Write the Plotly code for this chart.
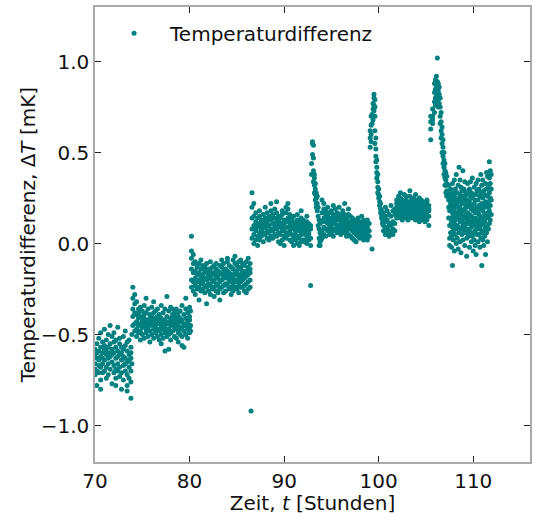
import plotly.graph_objects as go

# Each row: (time in 0.1 h, readings in 0.01 mK ...)
seg_a = [
    (700, -58, -66, -72, -61, -69), (702, -55, -63, -70, -78, -60),
    (704, -52, -64, -59, -71, -67), (706, -49, -62, -57, -68, -75, -80),
    (708, -60, -54, -66, -71, -63), (710, -47, -58, -64, -70, -56),
    (712, -61, -53, -68, -74, -59), (714, -50, -57, -63, -66, -72),
    (716, -45, -55, -62, -69, -60), (718, -58, -51, -65, -77, -61),
    (720, -54, -60, -67, -49, -71), (722, -57, -63, -53, -69, -78, -74),
    (724, -46, -59, -66, -62, -70), (726, -55, -61, -68, -52, -73),
    (728, -60, -64, -57, -71, -80), (730, -51, -62, -67, -75, -58),
    (732, -56, -63, -70, -48, -66), (734, -59, -65, -72, -54, -78, -81),
    (736, -53, -61, -68, -74, -64), (738, -57, -63, -70, -76, -85, -60),
    (739, -50, -66),
]
seg_b = [
    (740, -24, -30, -36, -40, -45), (742, -28, -33, -38, -44, -48),
    (744, -32, -39, -43, -47, -51), (746, -36, -41, -45, -49, -38),
    (748, -40, -44, -48, -53, -35), (750, -37, -42, -46, -50, -44),
    (752, -34, -41, -45, -52, -39), (754, -43, -38, -47, -49, -30),
    (756, -36, -42, -46, -51, -44), (758, -39, -44, -48, -41, -54),
    (760, -35, -40, -45, -50, -43), (762, -38, -42, -47, -52, -32),
    (764, -41, -45, -49, -37, -44), (766, -36, -43, -47, -51, -40),
    (768, -39, -44, -48, -53, -42), (770, -34, -41, -46, -50, -55),
    (772, -38, -43, -47, -52, -45), (774, -36, -42, -46, -59, -49),
    (776, -40, -44, -48, -51, -29), (778, -37, -43, -47, -58, -50),
    (780, -35, -41, -45, -49, -53), (782, -39, -44, -48, -42, -36),
    (784, -38, -43, -46, -51, -40), (786, -36, -42, -47, -52, -44),
    (788, -40, -45, -49, -38, -54), (790, -37, -43, -47, -50, -41),
    (792, -34, -42, -46, -51, -56), (794, -39, -44, -48, -57, -45),
    (796, -36, -41, -45, -50, -30), (798, -38, -43, -47, -52, -44),
    (800, -35, -40, -46, -49, -42), (801, -37, -45, -48),
]
seg_c = [
    (802, 4, -4, -8, -14, -20, -24), (804, -6, -11, -16, -21, -26),
    (806, -10, -15, -19, -23, -28), (808, -13, -17, -21, -25, -12),
    (810, -11, -16, -20, -31, -24), (812, -14, -18, -22, -26, -9),
    (814, -12, -17, -21, -25, -19), (816, -15, -19, -23, -27, -13),
    (818, -11, -16, -20, -24, -33), (820, -14, -18, -22, -26, -17),
    (822, -10, -15, -19, -23, -28), (824, -13, -17, -21, -25, -20),
    (826, -12, -16, -20, -24, -29), (828, -14, -18, -22, -11, -26),
    (830, -15, -19, -23, -27, -17), (832, -12, -16, -21, -25, -31),
    (834, -13, -17, -20, -24, -9), (836, -11, -15, -19, -23, -27),
    (838, -14, -18, -22, -26, -16), (840, -10, -15, -19, -23, -8),
    (842, -12, -16, -21, -25, -18), (844, -13, -17, -20, -24, -28),
    (846, -9, -14, -18, -22, -26), (848, -11, -16, -20, -24, -7),
    (850, -12, -17, -21, -25, -15), (852, -10, -14, -19, -23, -27),
    (854, -13, -17, -21, -9, -24), (856, -11, -15, -20, -24, -18),
    (858, -12, -16, -19, -23, -26), (860, -10, -15, -18, -22, -27),
    (862, -13, -17, -21, -25, -8), (864, -11, -16, -20, -24, -14),
    (865, -92),
]
seg_d = [
    (866, 28, 20, 14, 8, 3), (868, 22, 15, 10, 5, 0),
    (870, 17, 12, 7, 2, 9), (872, 14, 9, 4, 11, -1),
    (874, 15, 10, 6, 2, 18), (876, 13, 8, 4, 12, 7),
    (878, 16, 11, 6, 1, 9), (880, 14, 9, 5, 12, 20),
    (882, 17, 12, 7, 3, 10), (884, 15, 10, 6, 2, 13),
    (886, 18, 13, 8, 4, 22), (888, 16, 11, 7, 3, 14),
    (890, 19, 14, 9, 5, 11), (892, 17, 12, 8, 4, 23),
    (894, 15, 10, 6, 1, 13), (896, 14, 9, 5, 0, 11),
    (898, 16, 11, 7, 2, 18), (900, 13, 8, 4, -1, 10),
    (902, 17, 12, 20, 6, 3), (904, 19, 14, 9, 5, 22),
    (906, 16, 11, 7, 2, 13), (908, 14, 9, 5, 1, 10),
    (910, 12, 8, 3, -1, 15), (912, 11, 7, 2, 9, 5),
    (914, 13, 8, 4, 0, 16), (916, 12, 7, 3, 10, -1),
    (918, 14, 9, 5, 1, 18), (920, 11, 6, 2, 8, 13),
    (922, 10, 5, 1, 7, 12), (924, 12, 8, 3, 0, 15),
    (926, 9, 5, 2, 11, 6), (928, 8, 3, -1, 10, -23),
]
spike_1 = [
    (929, 44, 38), (930, 56, 55, 49), (931, 54, 47, 40, 34),
    (932, 36, 32, 28, 38), (933, 30, 27, 24, 33), (934, 25, 22, 20, 28),
    (935, 22, 18, 26), (936, 15, 10, 20), (937, 8, 3, 13, -1),
    (938, 6, 1, -1, 11), (939, 12, 5, 2),
]
seg_e = [
    (940, 24, 17, 12, 7, 3), (942, 19, 14, 9, 5, 22),
    (944, 16, 12, 8, 4, 18), (946, 15, 11, 7, 14, 20),
    (948, 17, 13, 9, 5, 11), (950, 14, 10, 6, 18, 8),
    (952, 16, 12, 8, 4, 21), (954, 15, 11, 7, 13, 19),
    (956, 17, 13, 9, 6, 10), (958, 14, 10, 16, 7, 20),
    (960, 16, 12, 8, 5, 14), (962, 15, 11, 7, 18, 9),
    (964, 13, 9, 6, 16, 22), (966, 14, 10, 7, 12, 4),
    (968, 16, 12, 8, 5, 19), (970, 12, 8, 4, 10, 15),
    (972, 11, 7, 3, 14, 9), (974, 10, 6, 2, 13, 8),
    (976, 9, 5, 1, 12, 7), (978, 8, 4, 11, 6, 14),
    (980, 10, 6, 3, 12, 7), (982, 11, 7, 4, 15, 9),
    (984, 8, 5, 2, 13), (986, 10, 6, 3, 12),
    (988, 9, 5, 2, 13, 7), (990, 11, 7, 4),
]
spike_2 = [
    (991, 53, 58, 62), (992, 60, 65, 70, 56), (993, 66, 71, -3),
    (994, 70, 74, 68, 77), (995, 76, 80, 73, 82), (996, 79, 75, 70, 62, 55),
    (997, 58, 52, 48, 45), (998, 46, 42, 39, 36), (999, 38, 34, 31, 28),
    (1000, 30, 27, 25), (1001, 26, 23, 21), (1002, 22, 19, 17),
    (1003, 18, 16, 14), (1004, 15, 13, 11),
]
seg_f = [
    (1005, 14, 10, 7, 17), (1007, 12, 8, 5, 15, 20), (1009, 13, 9, 6, 18),
    (1011, 11, 7, 4, 16), (1013, 15, 10, 6, 21), (1015, 12, 8, 5, 18),
    (1017, 16, 11, 7, 19),
    (1019, 24, 20, 17, 14, 22), (1021, 26, 21, 18, 15, 23),
    (1023, 25, 20, 17, 14, 28), (1025, 22, 19, 16, 13, 24),
    (1027, 27, 22, 18, 15, 20), (1029, 24, 20, 17, 14, 26),
    (1031, 23, 19, 16, 13, 21), (1033, 26, 22, 18, 15, 29),
    (1035, 24, 20, 17, 14, 22), (1037, 25, 21, 18, 15, 23),
    (1039, 23, 19, 16, 13, 27), (1041, 24, 20, 17, 14, 21),
    (1043, 22, 19, 16, 12, 25), (1045, 24, 20, 17, 14, 22),
    (1047, 23, 19, 16, 13, 20), (1049, 22, 18, 15, 12, 21),
    (1051, 23, 19, 16, 13, 24), (1053, 21, 18, 15, 10, 19),
]
spike_3 = [
    (1055, 63, 67, 70, 57), (1057, 66, 70, 74, 68), (1059, 72, 78, 83, 88),
    (1060, 80, 85, 90, 76), (1061, 82, 87, 92, 84), (1062, 102, 86, 80, 89),
    (1063, 79, 84, 88, 75), (1064, 77, 82, 86), (1065, 70, 75, 80, 66),
    (1066, 62, 67, 72, 58), (1067, 55, 60, 64, 50), (1068, 48, 53, 57, 44),
    (1069, 42, 46, 50, 38), (1070, 36, 40, 44, 32), (1071, 32, 35, 39, 28),
    (1072, 29, 33, 26, 37), (1074, 24, 28, 32, 20, 14),
]
seg_g = [
    (1075, 18, 10, 3, -1, 25), (1076, 14, 6, 22, 30), (1077, 20, 12, 4, -2, 27),
    (1078, -12, 9, 17, 24, 33), (1079, 15, 7, 2, 21, 28), (1080, 19, 11, -4, 26, 35),
    (1081, 13, 5, 22, 30, 17), (1082, 24, 16, 8, 0, 38), (1083, 21, 10, 3, 28, 15),
    (1084, 17, 9, 32, 23, -3), (1085, 25, 14, 6, 19, 42), (1086, 20, 12, 1, 27, 35),
    (1087, 16, 8, 24, 31, -5), (1088, 22, 13, 5, 29, 18), (1089, 18, 10, 2, 26, 40),
    (1090, 23, 15, 7, 30, 11), (1091, 19, 9, -1, 25, 34), (1092, 14, 6, 21, 28, 16),
    (1093, 20, 12, 3, 27, -7), (1094, 17, 8, 24, 33, 11), (1095, 22, 13, 4, 29, 15),
    (1096, 16, 7, -2, 23, 30), (1097, 21, 11, 26, 34, 5), (1098, 15, 9, 19, 28, 1),
    (1099, 20, 12, 4, 25, 36), (1100, 13, 6, -4, 18, 27), (1101, 18, 10, 22, 31, 2),
    (1102, 14, 7, -1, 24, 17), (1103, 19, 11, -6, 27, 33), (1104, 12, 5, 20, 29, 8),
    (1105, 17, 9, 1, 24, 35), (1106, 21, 13, 5, 30, 16), (1107, 15, 8, -2, 26, 11),
    (1108, 19, 10, 3, 28, 38), (1109, 14, 6, 22, 32, -12), (1110, 18, 11, 2, 25, 35),
    (1111, 13, 7, -1, 21, 29), (1112, 20, 12, 4, 27, 16), (1113, 16, 9, -6, 23, 33),
    (1114, 22, 14, 6, 30, 39), (1115, 17, 10, 1, 26, 37), (1116, 23, 15, 8, 31, 20),
    (1117, 18, 11, 28, 36, 45), (1118, 21, 13, 25, 33, 40), (1119, 24, 16, 30, 38),
]

segments = [seg_a, seg_b, seg_c, seg_d, spike_1, seg_e, spike_2, seg_f, spike_3, seg_g]

hours, delta_t = [], []
for seg in segments:
    for row in seg:
        for v in row[1:]:
            hours.append(row[0] / 10)
            delta_t.append(v / 100)

x_ticks = [70, 80, 90, 100, 110]
y_ticks = [-1.0, -0.5, 0.0, 0.5, 1.0]

FONT = "DejaVu Sans"
FS = 20
fig = go.Figure()
fig.add_trace(go.Scatter(
    x=hours, y=delta_t, mode="markers", name="Temperaturdifferenz",
    marker=dict(color="#008080", size=5, line=dict(width=0)),
))

axis_common = dict(
    showline=True, linecolor="#aaaaaa", linewidth=1.5, mirror="allticks",
    ticks="inside", ticklen=6, tickwidth=1, tickcolor="#222222",
    showgrid=False, zeroline=False,
    tickfont=dict(family=FONT, size=FS, color="#111111"),
)
fig.update_xaxes(
    range=[70, 116], tickvals=x_ticks, ticktext=[str(v) for v in x_ticks],
    title=dict(text="Zeit, <i>t</i> [Stunden]", font=dict(family=FONT, size=FS, color="#111111"), standoff=2),
    **axis_common,
)
fig.update_yaxes(
    range=[-1.2, 1.3], tickvals=y_ticks, tickformat=".1f",
    title=dict(text="Temperaturdifferenz, Δ<i>T</i> [mK]", font=dict(family=FONT, size=FS, color="#111111"), standoff=0),
    **axis_common,
)
fig.update_layout(
    width=533, height=515,
    margin=dict(l=95, r=1, t=7, b=53),
    paper_bgcolor="white", plot_bgcolor="white",
    showlegend=True,
    legend=dict(x=0.007, y=0.985, xanchor="left", yanchor="top", itemwidth=62,
                bgcolor="rgba(0,0,0,0)", font=dict(family=FONT, size=FS, color="#111111")),
    font=dict(family=FONT),
)
fig.write_html("out.html")
